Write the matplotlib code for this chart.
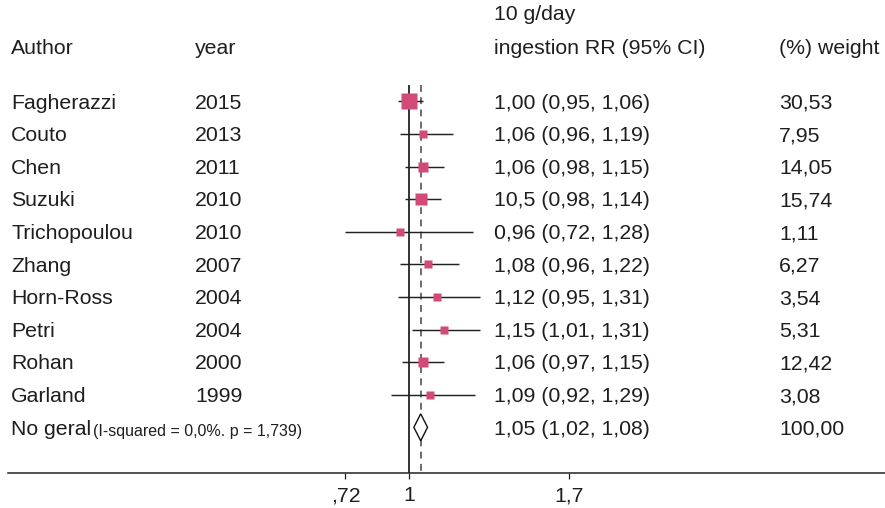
import matplotlib
matplotlib.use("Agg")
import matplotlib.pyplot as plt
from matplotlib.transforms import blended_transform_factory
import numpy as np

# ---- study data -------------------------------------------------------------
authors = ["Fagherazzi", "Couto", "Chen", "Suzuki", "Trichopoulou",
           "Zhang", "Horn-Ross", "Petri", "Rohan", "Garland"]
years = ["2015", "2013", "2011", "2010", "2010",
         "2007", "2004", "2004", "2000", "1999"]
rr = [1.00, 1.06, 1.06, 1.05, 0.96, 1.08, 1.12, 1.15, 1.06, 1.09]
ci_low = [0.95, 0.96, 0.98, 0.98, 0.72, 0.96, 0.95, 1.01, 0.97, 0.92]
ci_high = [1.06, 1.19, 1.15, 1.14, 1.28, 1.22, 1.31, 1.31, 1.15, 1.29]
rr_text = ["1,00 (0,95, 1,06)", "1,06 (0,96, 1,19)", "1,06 (0,98, 1,15)",
           "10,5 (0,98, 1,14)", "0,96 (0,72, 1,28)", "1,08 (0,96, 1,22)",
           "1,12 (0,95, 1,31)", "1,15 (1,01, 1,31)", "1,06 (0,97, 1,15)",
           "1,09 (0,92, 1,29)"]
weights = [30.53, 7.95, 14.05, 15.74, 1.11, 6.27, 3.54, 5.31, 12.42, 3.08]

pooled_rr, pooled_low, pooled_high = 1.05, 1.02, 1.08
pooled_text = "1,05 (1,02, 1,08)"
pooled_weight = 100.00
pooled_label = "No geral"
heterogeneity = "(I-squared = 0,0%. p = 1,739)"

x_ticks = [0.72, 1.0, 1.7]
x_tick_labels = [",72", "1", "1,7"]


def comma(v):
    return f"{v:.2f}".replace(".", ",")


# ---- layout -------------------------------------------------------------------
plt.rcParams["font.family"] = ["Liberation Sans", "DejaVu Sans"]
W, H = 885, 508
PX_PER_UNIT = 228.0       # horizontal scale of the RR axis
X_ONE = 409.3             # pixel column of RR = 1
ROW0, ROW_STEP = 101.3, 32.6
AXIS_Y = 473.3
LINE_TOP = 85
TEXT_COLOR = "#1e1e1e"
BOX_COLOR = "#d24b78"
FS = 15.3

fig = plt.figure(figsize=(W / 100, H / 100), dpi=100)
ax = fig.add_axes([0, 0, 1, 1])
ax.set_xlim(1 - X_ONE / PX_PER_UNIT, 1 + (W - X_ONE) / PX_PER_UNIT)
ax.set_ylim(H, 0)

cols = blended_transform_factory(ax.transAxes, ax.transData)
X_AUTHOR, X_YEAR, X_CI, X_WEIGHT = 11 / W, 195 / W, 494 / W, 779 / W

n = len(authors)
row_y = ROW0 + ROW_STEP * np.arange(n + 1)
base_off = 7.3


def cell(x, y, s):
    return ax.text(x, y, s, transform=cols, fontsize=FS, color=TEXT_COLOR, va="baseline")


# header
cell(X_AUTHOR, 54, "Author")
cell(X_YEAR, 54, "year")
cell(X_CI, 20, "10 g/day")
cell(X_CI, 54, "ingestion RR (95% CI)")
cell(X_WEIGHT, 54, "(%) weight")

# reference lines: null effect and pooled estimate
ax.vlines(1.0, LINE_TOP, AXIS_Y, color="#111111", lw=1.2, zorder=1)
dash = ax.vlines(pooled_rr, LINE_TOP, AXIS_Y, color="#444444", lw=1.1, zorder=1)
dash.set_linestyle((0, (4.5, 3.5)))

# studies
box_side = np.maximum(8.0, 1.3 + 2.5 * np.sqrt(weights)) * 0.72  # points
for i in range(n):
    y = row_y[i]
    ax.hlines(y, ci_low[i], ci_high[i], color="#222222", lw=1.05, zorder=2)
    ax.plot(rr[i], y, marker="s", ms=box_side[i], mfc=BOX_COLOR, mec="none", zorder=3)
    yb = y + base_off
    cell(X_AUTHOR, yb, authors[i])
    cell(X_YEAR, yb, years[i])
    cell(X_CI, yb, rr_text[i])
    cell(X_WEIGHT, yb, comma(weights[i]))

# pooled estimate
yp = row_y[n]
half_h = 13.5
ax.fill([pooled_low, pooled_rr, pooled_high, pooled_rr],
        [yp, yp - half_h, yp, yp + half_h],
        facecolor="white", edgecolor="#111111", lw=1.0, zorder=3)
yb = yp + base_off
t = cell(X_AUTHOR, yb, pooled_label)
ax.annotate(heterogeneity, xy=(1, 0), xycoords=t, fontsize=11.5, color=TEXT_COLOR,
            va="bottom", ha="left", xytext=(1, 0), textcoords="offset points")
cell(X_CI, yb, pooled_text)
cell(X_WEIGHT, yb, comma(pooled_weight))

# RR axis
for s in ["top", "left", "right"]:
    ax.spines[s].set_visible(False)
ax.spines["bottom"].set_position(("data", AXIS_Y))
ax.spines["bottom"].set_bounds(1 + (8 - X_ONE) / PX_PER_UNIT, ax.get_xlim()[1])
ax.spines["bottom"].set_linewidth(1.1)
ax.spines["bottom"].set_color("#222222")
ax.set_yticks([])
ax.set_xticks(x_ticks)
ax.set_xticklabels(x_tick_labels)
ax.tick_params(axis="x", direction="out", length=4.5, width=0.9, color="#222222",
               labelsize=FS, labelcolor=TEXT_COLOR, pad=5)

fig.savefig("out.png", dpi=100)
